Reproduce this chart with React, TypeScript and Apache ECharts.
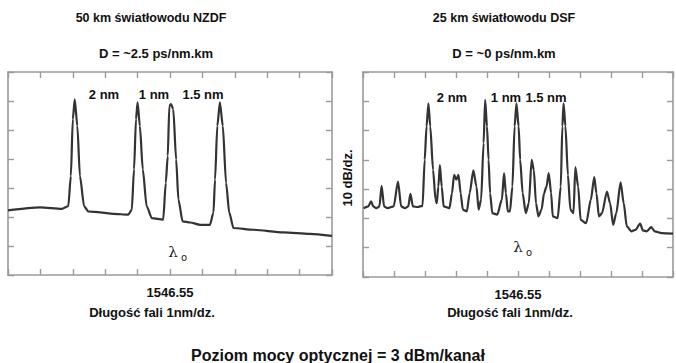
import React, { useEffect, useRef } from "react";
import * as echarts from "echarts";

// wavelength offset from 1546.55 nm (nm), power in dB above screen bottom (10 dB/div)
const leftWavelength = [
  -5.0, -4.01, -3.34, -3.14, -3.06, -3.0, -2.94, -2.86, -2.78, -2.65, -2.52, -2.16, -1.75, -1.29,
  -1.18, -1.11, -1.05, -1.0, -0.93, -0.84, -0.72, -0.56, -0.21, -0.13, -0.07, -0.02, 0.03, 0.1,
  0.19, 0.26, 0.39, 0.62, 0.93, 1.23, 1.34, 1.39, 1.46, 1.54, 1.63, 1.73, 1.83, 1.96, 2.57, 3.5,
  4.32, 5.0,
];
const leftPower = [
  22.3, 23.3, 22.8, 23.7, 34.1, 53.7, 60.6, 51.4, 34.1, 23.7, 21.9, 21.6, 21.1, 20.8,
  22.5, 36.4, 53.7, 59.5, 51.4, 36.4, 23.7, 19.6, 19.1, 31.8, 41.0, 58.3, 58.9, 57.2,
  39.8, 26.0, 18.5, 18.1, 17.3, 17.3, 21.4, 32.9, 51.4, 59.5, 51.4, 31.8, 21.4, 16.2, 15.6, 14.7,
  14.2, 13.5,
];
const rightWavelength = [
  -4.98, -4.83, -4.74, -4.67, -4.57, -4.47, -4.4, -4.32, -4.21, -4.01, -3.87, -3.77, -3.65,
  -3.54, -3.47, -3.39, -3.24, -3.08, -3.01, -2.95, -2.89, -2.83, -2.74, -2.66, -2.62,
  -2.57, -2.52, -2.46, -2.4, -2.21, -2.13, -2.06, -1.99, -1.92, -1.85, -1.78, -1.65,
  -1.56, -1.44, -1.34, -1.27, -1.19, -1.11, -1.06, -1.0, -0.95, -0.9, -0.83, -0.67,
  -0.52, -0.45, -0.39, -0.33, -0.26, -0.18, -0.11, -0.05, 0.02, 0.07, 0.15, 0.25, 0.35,
  0.44, 0.51, 0.58, 0.66, 0.76, 0.84, 0.92, 0.99, 1.07, 1.12, 1.28,
  1.38, 1.43, 1.47, 1.53, 1.61, 1.69, 1.79, 1.85, 1.94, 2.02, 2.2,
  2.35, 2.46, 2.53, 2.61, 2.71, 2.87, 2.97, 3.07, 3.17, 3.31, 3.41, 3.51, 3.66,
  3.79, 3.94, 4.03, 4.15, 4.3, 4.41, 4.64, 5.0,
];
const rightPower = [
  23.5, 24.1, 25.8, 24.1, 23.5, 24.1, 31.1, 24.1, 23.5, 24.1, 32.6, 24.1, 23.5,
  24.1, 28.4, 24.1, 23.9, 24.3, 40.0, 51.4, 59.3, 51.4, 36.6, 26.4, 25.2,
  30.9, 38.2, 30.9, 24.1, 23.5, 28.6, 34.9, 33.2, 34.9, 28.6, 23.0, 22.4,
  28.6, 36.4, 30.9, 23.0, 26.4, 45.7, 60.5, 51.4, 40.0, 28.6, 21.8, 21.3,
  26.4, 35.5, 28.6, 22.4, 22.4, 30.9, 51.4, 59.3, 51.4, 40.0, 28.6, 21.8, 25.2,
  40.0, 36.6, 25.2, 20.7, 23.0, 28.6, 30.9, 35.5, 28.6, 20.7, 20.1,
  30.9, 51.4, 59.3, 51.4, 34.9, 23.0, 21.8, 37.5, 30.9, 19.5, 18.4,
  26.4, 34.1, 28.6, 20.7, 21.8, 29.2, 25.2, 17.8, 21.8, 32.3, 25.2, 17.3, 15.6,
  16.1, 18.2, 15.9, 15.6, 17.0, 15.6, 15.0, 14.8,
];
const centerWavelength = "1546.55";
const leftTitles = ["50 km światłowodu NZDF", "D = ~2.5 ps/nm.km"];
const rightTitles = ["25 km światłowodu DSF", "D = ~0 ps/nm.km"];
const spacingLabels = ["2 nm", "1 nm", "1.5 nm"];
const xAxisTitle = "Długość fali 1nm/dz.";
const yAxisTitle = "10 dB/dz.";
const footer = "Poziom mocy optycznej = 3 dBm/kanał";

const FRAME = "#9a9a9a";
const FONT = '"Liberation Sans Narrow", "Liberation Sans", Arial, sans-serif';

function zip(xs: number[], ys: number[]) {
  return xs.map((x, i) => [x, ys[i]]);
}

function xAx(grid: number, position: "bottom" | "top", label: boolean) {
  return {
    type: "value",
    gridIndex: grid,
    position,
    min: -5,
    max: 5,
    interval: 1,
    axisLine: { show: true, onZero: false, lineStyle: { color: FRAME, width: 1.6 } },
    axisTick: { show: true, inside: true, length: 6, lineStyle: { color: FRAME, width: 1.4 } },
    splitLine: { show: false },
    axisLabel: {
      show: label,
      margin: 11,
      fontFamily: FONT,
      fontWeight: "bold",
      fontSize: 13,
      color: "#111",
      formatter: (v: number) => (Math.abs(v) < 1e-6 ? centerWavelength : ""),
    },
  };
}

function yAx(grid: number, position: "left" | "right") {
  return {
    type: "value",
    gridIndex: grid,
    position,
    min: 0,
    max: 70,
    interval: 10,
    axisLine: { show: true, onZero: false, lineStyle: { color: FRAME, width: 1.6 } },
    axisTick: { show: true, inside: true, length: 6, lineStyle: { color: FRAME, width: 1.4 } },
    splitLine: { show: false },
    axisLabel: { show: false },
  };
}

function txt(text: string, x: number, y: number, size = 13, extra: any = {}) {
  return {
    type: "text",
    x,
    y,
    ...extra,
    style: {
      text,
      align: "center",
      verticalAlign: "middle",
      fontFamily: FONT,
      fontWeight: "bold",
      fontSize: size,
      fill: "#111",
      ...(extra.style || {}),
    },
  };
}

function lambda(x: number, y: number) {
  return [
    {
      type: "text",
      x,
      y,
      style: {
        text: "λ",
        align: "center",
        verticalAlign: "middle",
        fontFamily: "DejaVu Serif",
        fontSize: 15,
        fill: "#222",
      },
    },
    {
      type: "text",
      x: x + 11,
      y: y + 5,
      style: {
        text: "o",
        align: "center",
        verticalAlign: "middle",
        fontFamily: "DejaVu Sans",
        fontSize: 10,
        fill: "#222",
      },
    },
  ];
}

export default function App() {
  const ref = useRef<HTMLDivElement>(null);
  useEffect(() => {
    if (!ref.current) return;
    const chart = echarts.init(ref.current, undefined, { renderer: "svg" });
    const lineStyle = { color: "#333", width: 2.2 };
    chart.setOption({
      animation: false,
      backgroundColor: "#fff",
      grid: [
        { left: 8, top: 72, width: 324, height: 203, show: false },
        { left: 363, top: 72, width: 325, height: 205, show: false },
      ],
      xAxis: [xAx(0, "bottom", true), xAx(0, "top", false), xAx(1, "bottom", true), xAx(1, "top", false)],
      yAxis: [yAx(0, "left"), yAx(0, "right"), yAx(1, "left"), yAx(1, "right")],
      series: [
        {
          type: "line",
          xAxisIndex: 0,
          yAxisIndex: 0,
          data: zip(leftWavelength, leftPower),
          showSymbol: false,
          smooth: 0.25,
          smoothMonotone: "x",
          lineStyle,
          silent: true,
        },
        {
          type: "line",
          xAxisIndex: 2,
          yAxisIndex: 2,
          data: zip(rightWavelength, rightPower),
          showSymbol: false,
          smooth: 0.25,
          smoothMonotone: "x",
          lineStyle,
          silent: true,
        },
      ],
      graphic: [
        txt(leftTitles[0], 151, 18, 12.5),
        txt(leftTitles[1], 156, 53),
        txt(rightTitles[0], 504, 18, 12.5),
        txt(rightTitles[1], 504, 53),
        txt(spacingLabels[0], 104, 94),
        txt(spacingLabels[1], 154, 94),
        txt(spacingLabels[2], 203, 94),
        txt(spacingLabels[0], 452, 97),
        txt(spacingLabels[1], 506, 97),
        txt(spacingLabels[2], 546, 97),
        ...lambda(173, 252),
        ...lambda(518, 247),
        txt(xAxisTitle, 152, 312),
        txt(xAxisTitle, 510, 312),
        txt(yAxisTitle, 347, 178, 13, { rotation: Math.PI / 2 }),
        txt(footer, 338, 355, 16),
      ],
    });
    return () => chart.dispose();
  }, []);
  return (
    <div
      ref={ref}
      style={{ position: "absolute", left: 0, top: 0, width: 676, height: 363, background: "#fff" }}
    />
  );
}
